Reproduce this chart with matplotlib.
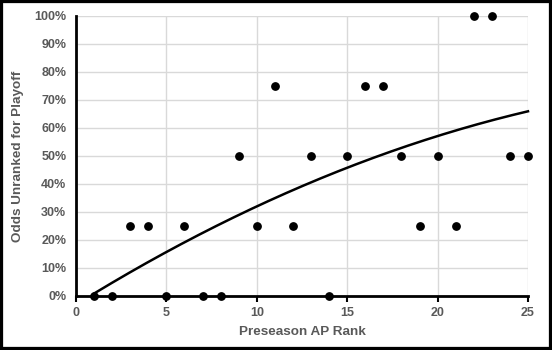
import numpy as np
import matplotlib
matplotlib.use("Agg")
import matplotlib.pyplot as plt
from matplotlib.ticker import PercentFormatter
from matplotlib.patches import Rectangle

rank = [1, 2, 3, 4, 5, 6, 7, 8, 9, 10, 11, 12, 13, 14, 15, 16, 17, 18, 19, 20, 21, 22, 23, 24, 25]
odds = [0, 0, 0.25, 0.25, 0, 0.25, 0, 0, 0.5, 0.25, 0.75, 0.25, 0.5, 0, 0.5, 0.75, 0.75, 0.5, 0.25, 0.5, 0.25, 1.0, 1.0, 0.5, 0.5]

plt.rcParams['font.family'] = ['Liberation Sans', 'DejaVu Sans']
fig = plt.figure(figsize=(5.52, 3.5), dpi=100)
ax = fig.add_axes([76/552, 1 - 296/350, (528 - 76)/552, (296 - 16)/350])

ax.set_xlim(0, 25)
ax.set_ylim(0, 1.0)
ax.set_xticks([0, 5, 10, 15, 20, 25])
ax.set_yticks(np.arange(0, 1.01, 0.1))
ax.yaxis.set_major_formatter(PercentFormatter(1.0, decimals=0))
ax.grid(True, color='#d9d9d9', linewidth=1)
ax.set_axisbelow(True)
for s in ['top', 'right']:
    ax.spines[s].set_visible(False)
for s in ['left', 'bottom']:
    ax.spines[s].set_linewidth(2)
    ax.spines[s].set_color('black')
    ax.spines[s].set_zorder(1)
ax.tick_params(axis='y', length=0, pad=7, labelsize=9, labelcolor='#595959')
ax.tick_params(axis='x', length=4, width=1.5, direction='out', pad=4, labelsize=9, labelcolor='#595959')
for lbl in ax.get_xticklabels() + ax.get_yticklabels():
    lbl.set_fontweight('bold')

coef = np.polyfit(rank, odds, 2)
xs = np.linspace(min(rank), max(rank), 200)
ax.plot(xs, np.polyval(coef, xs), color='black', linewidth=1.8, zorder=3, clip_on=False)
ax.scatter(rank, odds, s=28, color='black', zorder=4, clip_on=False)

ax.set_xlabel('Preseason AP Rank', fontsize=9.7, fontweight='bold', color='#595959', labelpad=5)
ax.set_ylabel('Odds Unranked for Playoff', fontsize=9.7, fontweight='bold', color='#595959', labelpad=7)

fig.patches.append(Rectangle((0, 0), 1, 1, transform=fig.transFigure, fill=False,
                             edgecolor='black', linewidth=4.5, zorder=10))
fig.savefig('out.png', dpi=100)
